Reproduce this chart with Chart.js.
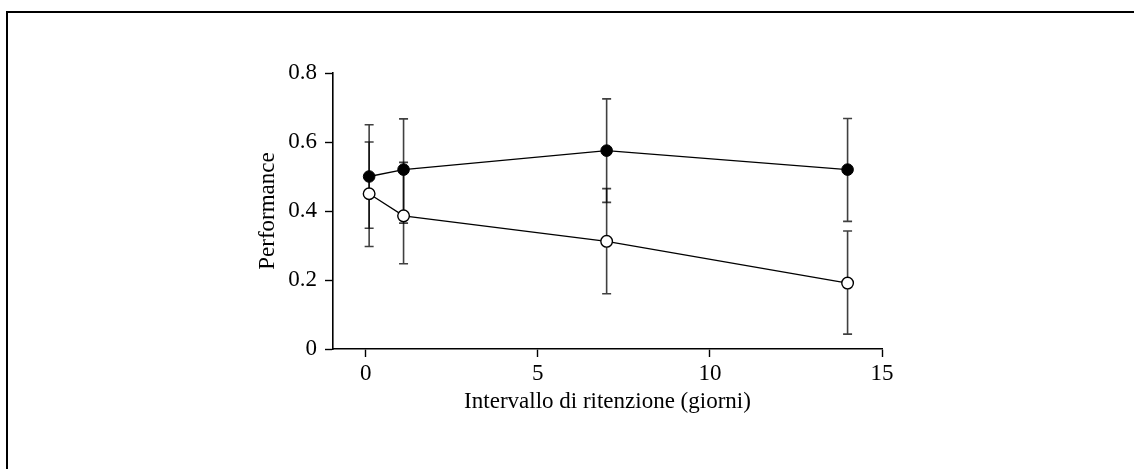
<!DOCTYPE html>
<html>
<head>
<meta charset="utf-8">
<script src="https://cdn.jsdelivr.net/npm/chart.js@4/dist/chart.umd.min.js"></script>
<style>
  html, body { margin: 0; padding: 0; background: #fff; }
  #wrap { position: relative; width: 1134px; height: 469px; overflow: hidden; }
  #frame { position: absolute; left: 6px; top: 11px; right: -4px; bottom: -4px; border-top: 2px solid #000; border-left: 2px solid #000; }
  #chart { position: absolute; left: 0; top: 0; }
</style>
</head>
<body>
<div id="wrap">
  <div id="frame"></div>
  <canvas id="chart" width="1134" height="469"></canvas>
</div>
<script>
// retention interval (days) — first two points are offset slightly in the original
const days = [0.1, 1.1, 7, 14];

// filled circles
const filledMean = [0.50, 0.52, 0.575, 0.52];
const filledHigh = [0.65, 0.667, 0.725, 0.668];
const filledLow  = [0.35, 0.365, 0.425, 0.37];

// open circles
const openMean = [0.45, 0.386, 0.312, 0.191];
const openHigh = [0.60, 0.541, 0.465, 0.342];
const openLow  = [0.297, 0.247, 0.16, 0.043];

const xTicks = [0, 5, 10, 15];
const xTickLabels = ['0', '5', '10', '15'];
const yTicks = [0, 0.2, 0.4, 0.6, 0.8];
const yTickLabels = ['0', '0.2', '0.4', '0.6', '0.8'];

const xTitle = 'Intervallo di ritenzione (giorni)';
const yTitle = 'Performance';

const FONT = 'Liberation Serif';
const fontSpec = { family: FONT, size: 23 };

const pts = (ys) => days.map((d, i) => ({ x: d, y: ys[i] }));

const errorBars = {
  id: 'errorBars',
  beforeDatasetsDraw(chart) {
    const { ctx, scales: { x, y } } = chart;
    const sets = [[filledHigh, filledLow], [openHigh, openLow]];
    ctx.save();
    ctx.strokeStyle = 'rgba(0,0,0,0.75)';
    ctx.lineWidth = 1.6;
    sets.forEach(([hi, lo]) => {
      days.forEach((d, i) => {
        const px = x.getPixelForValue(d);
        const top = y.getPixelForValue(hi[i]);
        const bot = y.getPixelForValue(lo[i]);
        ctx.beginPath();
        ctx.moveTo(px, top); ctx.lineTo(px, bot);
        ctx.moveTo(px - 4.5, top); ctx.lineTo(px + 4.5, top);
        ctx.moveTo(px - 4.5, bot); ctx.lineTo(px + 4.5, bot);
        ctx.stroke();
      });
    });
    ctx.restore();
  }
};

new Chart(document.getElementById('chart'), {
  type: 'scatter',
  data: {
    datasets: [
      { data: pts(filledMean), showLine: true, borderColor: '#000', borderWidth: 1.3,
        pointRadius: 5.8, pointBackgroundColor: '#000', pointBorderColor: '#000', pointBorderWidth: 1 },
      { data: pts(openMean), showLine: true, borderColor: '#000', borderWidth: 1.3,
        pointRadius: 5.8, pointBackgroundColor: '#fff', pointBorderColor: '#000', pointBorderWidth: 1.4 }
    ]
  },
  plugins: [errorBars],
  options: {
    responsive: false,
    animation: false,
    events: [],
    layout: { padding: { left: 243, right: 252, top: 73, bottom: 40 } },
    plugins: { legend: { display: false }, tooltip: { enabled: false } },
    scales: {
      x: {
        type: 'linear', min: -0.95, max: 15,
        afterFit: (s) => { s.height = 80; },
        afterBuildTicks: (s) => { s.ticks = xTicks.map(v => ({ value: v })); },
        grid: { drawOnChartArea: false, drawTicks: true, tickLength: 8, tickColor: '#000', tickWidth: 1.4 },
        border: { display: true, color: '#000', width: 1.6 },
        ticks: { color: '#000', font: fontSpec, padding: 3, maxRotation: 0,
          callback: (v) => xTickLabels[xTicks.indexOf(v)] },
        title: { display: true, text: xTitle, color: '#000', font: fontSpec, padding: { top: 0, bottom: 13 } }
      },
      y: {
        type: 'linear', min: 0, max: 0.8,
        afterFit: (s) => { s.width = 90; },
        afterBuildTicks: (s) => { s.ticks = yTicks.map(v => ({ value: v })); },
        grid: { drawOnChartArea: false, drawTicks: true, tickLength: 8, tickColor: '#000', tickWidth: 1.4 },
        border: { display: true, color: '#000', width: 1.6 },
        ticks: { color: '#000', font: fontSpec, padding: 8,
          callback: (v) => yTickLabels[yTicks.findIndex(t => Math.abs(t - v) < 1e-9)] },
        title: { display: true, text: yTitle, color: '#000', font: fontSpec, padding: { top: 11, bottom: 0 } }
      }
    }
  }
});
</script>
</body>
</html>
